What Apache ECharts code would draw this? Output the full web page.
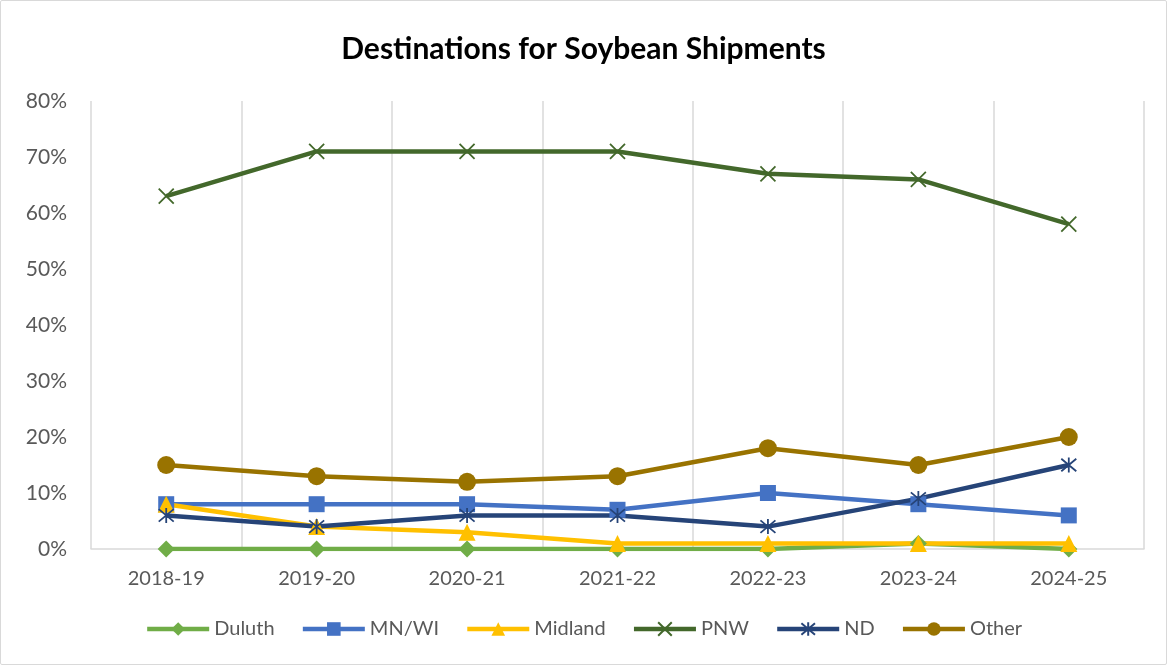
<!DOCTYPE html>
<html>
<head>
<meta charset="utf-8">
<script src="https://cdn.jsdelivr.net/npm/echarts@6/dist/echarts.min.js"></script>
<style>
  html, body { margin: 0; padding: 0; background: #fff; }
  #chart { position: absolute; left: 0; top: 0; width: 1165px; height: 663px; border: 1px solid #d9d9d9; border-radius: 2px; }
</style>
</head>
<body>
<div id="chart"></div>
<script>
// 年份
var seasons = ['2018-19', '2019-20', '2020-21', '2021-22', '2022-23', '2023-24', '2024-25']

// 各目的地占比 (%)
var duluth = [0, 0, 0, 0, 0, 1, 0]
var mnwi = [8, 8, 8, 7, 10, 8, 6]
var midland = [8, 4, 3, 1, 1, 1, 1]
var pnw = [63, 71, 71, 71, 67, 66, 58]
var nd = [6, 4, 6, 6, 4, 9, 15]
var other = [15, 13, 12, 13, 18, 15, 20]

var yTicks = [0, 10, 20, 30, 40, 50, 60, 70, 80]

var font = 'Lato'

function mkSeries(name, data, color, symbol, size, stroke) {
	var s = {
		name: name,
		type: 'line',
		data: data,
		symbol: symbol,
		symbolSize: size,
		lineStyle: { color: color, width: 4.5 },
		itemStyle: { color: color },
		z: 3
	}
	if (stroke) { // 只有线条的标记需要描边
		s.itemStyle = { color: color, borderColor: color, borderWidth: 1.8 }
	}
	return s
}

var myEcharts = echarts.init(document.getElementById('chart'))
var option = {
	animation: false,
	title: {
		text: 'Destinations for Soybean Shipments',
		left: 'center',
		top: 28,
		textStyle: { fontFamily: font, fontSize: 30, fontWeight: 'bold', color: '#000' }
	},
	grid: { left: 90, right: 22, top: 100, bottom: 115 },
	legend: {
		bottom: 20,
		left: 'center',
		itemWidth: 62,
		itemHeight: 17,
		itemGap: 26,
		lineStyle: { width: 4.5 },
		textStyle: { fontFamily: font, fontSize: 20, color: '#595959' },
		data: ['Duluth', 'MN/WI', 'Midland', 'PNW', 'ND', 'Other']
	},
	xAxis: {
		type: 'category',
		data: seasons,
		boundaryGap: true,
		axisLine: { lineStyle: { color: '#d9d9d9', width: 1.5 } },
		axisTick: { show: false },
		axisLabel: { fontFamily: font, fontSize: 20, color: '#595959', margin: 20 },
		splitLine: { show: true, lineStyle: { color: '#d9d9d9', width: 1.5 } }
	},
	yAxis: {
		type: 'value',
		min: yTicks[0],
		max: yTicks[yTicks.length - 1],
		interval: 10,
		axisLine: { show: false },
		axisTick: { show: false },
		splitLine: { show: false },
		axisLabel: { fontFamily: font, fontSize: 21, color: '#595959', margin: 24, formatter: '{value}%' }
	},
	series: [
		mkSeries('Duluth', duluth, '#70AD47', 'diamond', 17),
		mkSeries('MN/WI', mnwi, '#4472C4', 'rect', 16),
		mkSeries('Midland', midland, '#FFC000', 'triangle', 17),
		mkSeries('PNW', pnw, '#43682B', 'path://M0,0L10,10M10,0L0,10', 15, true),
		mkSeries('ND', nd, '#264478', 'path://M0,0L10,10M10,0L0,10M5,-1L5,11', 15, true),
		mkSeries('Other', other, '#997300', 'circle', 18)
	]
}
myEcharts.setOption(option)
</script>
</body>
</html>
